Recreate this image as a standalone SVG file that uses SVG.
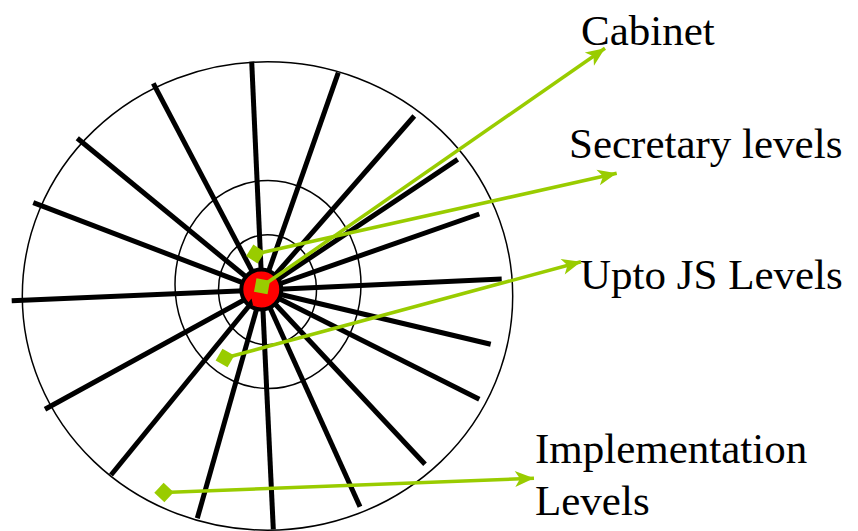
<svg xmlns="http://www.w3.org/2000/svg" width="858" height="531" viewBox="0 0 858 531">
  <style>
    .ring { fill: none; stroke: #000; stroke-width: 1.5; }
    .spoke { stroke: #000; stroke-width: 5; stroke-linecap: butt; }
    .pointer { fill: none; stroke: #99CC00; stroke-width: 3.5; marker-start: url(#diamond); marker-end: url(#head); }
    .label { font-family: "Liberation Serif", "Times New Roman", serif; font-size: 43px; fill: #000; }
  </style>
  <defs>
    <marker id="head" markerUnits="userSpaceOnUse" viewBox="-20 -9 22 18" refX="0" refY="0" markerWidth="22" markerHeight="18" orient="auto">
      <path d="M0,0 L-19,-8 L-14,0 L-19,8 Z" fill="#99CC00"/>
    </marker>
    <marker id="diamond" markerUnits="userSpaceOnUse" viewBox="-11 -11 22 22" refX="0" refY="0" markerWidth="22" markerHeight="22" orient="auto">
      <path d="M-9.7,0 L0,-9.7 L9.7,0 L0,9.7 Z" fill="#99CC00"/>
    </marker>
  </defs>

  <!-- concentric levels -->
  <g id="rings">
    <ellipse class="ring" cx="267.5" cy="296" rx="245.2" ry="234.2"/>
    <ellipse class="ring" cx="268" cy="284.5" rx="93" ry="104"/>
    <ellipse class="ring" cx="267.5" cy="289.7" rx="49" ry="55"/>
  </g>

  <!-- radial spokes -->
  <g id="spokes">
    <line class="spoke" x1="11.7" y1="300.7" x2="262" y2="290"/>
    <line class="spoke" x1="501.7" y1="279" x2="262" y2="290"/>
    <line class="spoke" x1="33.3" y1="202.7" x2="262" y2="290"/>
    <line class="spoke" x1="77.3" y1="138.3" x2="262" y2="290"/>
    <line class="spoke" x1="153.3" y1="83.3" x2="262" y2="290"/>
    <line class="spoke" x1="251.7" y1="61.7" x2="262" y2="290"/>
    <line class="spoke" x1="338.3" y1="72.7" x2="262" y2="290"/>
    <line class="spoke" x1="414.3" y1="116" x2="262" y2="290"/>
    <line class="spoke" x1="457.7" y1="159.3" x2="262" y2="290"/>
    <line class="spoke" x1="479.3" y1="214" x2="262" y2="290"/>
    <line class="spoke" x1="490.7" y1="344.3" x2="262" y2="290"/>
    <line class="spoke" x1="479.3" y1="399.3" x2="262" y2="290"/>
    <line class="spoke" x1="425" y1="464.3" x2="262" y2="290"/>
    <line class="spoke" x1="360" y1="506.7" x2="262" y2="290"/>
    <line class="spoke" x1="273.3" y1="529.3" x2="262" y2="290"/>
    <line class="spoke" x1="197.3" y1="518.3" x2="262" y2="290"/>
    <line class="spoke" x1="111" y1="475" x2="262" y2="290"/>
    <line class="spoke" x1="45" y1="409.3" x2="262" y2="290"/>
  </g>

  <!-- hub -->
  <g id="hub">
    <circle cx="261.3" cy="289.5" r="20" fill="#FF0000" stroke="#000" stroke-width="4"/>
    <path d="M246.5,304.5 L251.5,298.5 L253,305 Z" fill="#000"/>
  </g>

  <!-- labels -->
  <g id="cabinet"><text class="label" x="581" y="45">Cabinet</text></g>
  <g id="secretary"><text class="label" x="569" y="158.3">Secretary levels</text></g>
  <g id="upto-js"><text class="label" x="580" y="289.3">Upto JS Levels</text></g>
  <g id="implementation">
    <text class="label" x="535" y="463.3">Implementation</text>
    <text class="label" x="535" y="515">Levels</text>
  </g>

  <!-- pointers from levels to labels -->
  <g id="connectors">
    <line class="pointer" x1="262" y1="286.3" x2="605" y2="48.3"/>
    <line class="pointer" x1="255.5" y1="254" x2="616.7" y2="173.3"/>
    <line class="pointer" x1="225" y1="358" x2="581" y2="261.7"/>
    <line class="pointer" x1="164" y1="492.5" x2="534" y2="478.3"/>
  </g>
</svg>
